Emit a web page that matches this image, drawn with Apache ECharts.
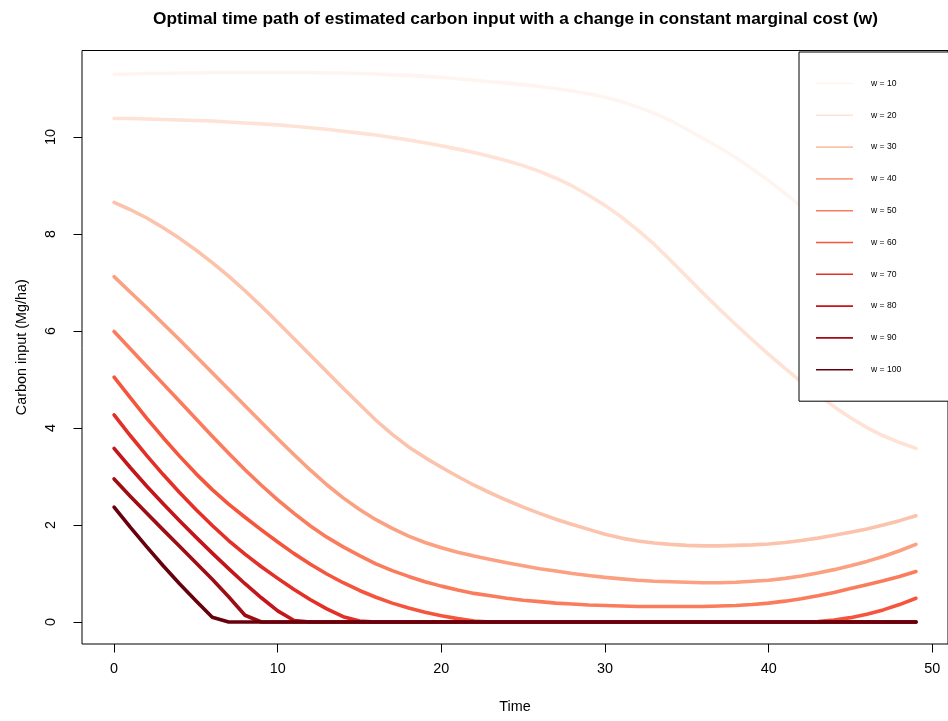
<!DOCTYPE html>
<html><head><meta charset="utf-8">
<script src="https://cdn.jsdelivr.net/npm/echarts@6/dist/echarts.min.js"></script>
<style>html,body{margin:0;padding:0;background:#fff}#c{width:948px;height:721px}</style>
</head><body><div id="c"></div>
<script>
const time = [0,1,2,3,4,5,6,7,8,9,10,11,12,13,14,15,16,17,18,19,20,21,22,23,24,25,26,27,28,29,30,31,32,33,34,35,36,37,38,39,40,41,42,43,44,45,46,47,48,49];
const w10 = [11.29,11.30,11.31,11.31,11.32,11.32,11.33,11.33,11.33,11.33,11.33,11.33,11.33,11.32,11.32,11.31,11.30,11.28,11.27,11.25,11.23,11.20,11.17,11.14,11.11,11.08,11.04,11.00,10.95,10.89,10.82,10.73,10.62,10.49,10.34,10.16,9.97,9.78,9.57,9.34,9.10,8.84,8.56,8.26,7.94,7.61,7.27,6.93,6.59,6.25];
const w20 = [10.38,10.38,10.37,10.36,10.35,10.34,10.33,10.31,10.29,10.27,10.25,10.22,10.19,10.16,10.12,10.08,10.04,9.99,9.94,9.88,9.82,9.75,9.68,9.60,9.51,9.41,9.29,9.15,8.99,8.80,8.59,8.35,8.08,7.79,7.46,7.12,6.78,6.45,6.13,5.82,5.52,5.23,4.95,4.69,4.44,4.21,4.01,3.84,3.70,3.58];
const w30 = [8.65,8.50,8.33,8.13,7.91,7.67,7.41,7.13,6.83,6.51,6.18,5.84,5.50,5.16,4.82,4.49,4.16,3.87,3.61,3.39,3.19,3.00,2.82,2.66,2.51,2.37,2.24,2.12,2.01,1.91,1.81,1.73,1.67,1.63,1.60,1.58,1.57,1.57,1.58,1.59,1.61,1.64,1.68,1.73,1.79,1.85,1.92,2.00,2.09,2.19];
const w40 = [7.12,6.80,6.48,6.15,5.82,5.48,5.14,4.80,4.46,4.12,3.78,3.45,3.13,2.83,2.56,2.32,2.11,1.93,1.77,1.64,1.53,1.44,1.36,1.29,1.22,1.16,1.10,1.05,1.00,0.96,0.92,0.89,0.86,0.84,0.83,0.82,0.81,0.81,0.82,0.84,0.86,0.90,0.95,1.01,1.08,1.16,1.25,1.35,1.47,1.60];
const w50 = [5.99,5.63,5.27,4.91,4.55,4.19,3.83,3.48,3.14,2.82,2.52,2.24,1.98,1.75,1.55,1.37,1.20,1.06,0.94,0.83,0.74,0.66,0.59,0.54,0.49,0.45,0.42,0.39,0.37,0.35,0.34,0.33,0.32,0.32,0.32,0.32,0.32,0.33,0.34,0.36,0.39,0.43,0.48,0.54,0.61,0.69,0.77,0.85,0.94,1.04];
const w60 = [5.05,4.62,4.20,3.80,3.42,3.06,2.73,2.43,2.16,1.90,1.65,1.41,1.19,0.99,0.81,0.65,0.51,0.39,0.29,0.20,0.13,0.07,0.02,0,0,0,0,0,0,0,0,0,0,0,0,0,0,0,0,0,0,0,0,0.01,0.04,0.09,0.16,0.25,0.36,0.49];
const w70 = [4.27,3.84,3.43,3.04,2.67,2.32,1.99,1.68,1.40,1.14,0.90,0.67,0.46,0.27,0.11,0.02,0,0,0,0,0,0,0,0,0,0,0,0,0,0,0,0,0,0,0,0,0,0,0,0,0,0,0,0,0,0,0,0,0,0];
const w80 = [3.58,3.18,2.80,2.44,2.09,1.75,1.42,1.10,0.79,0.50,0.23,0.03,0,0,0,0,0,0,0,0,0,0,0,0,0,0,0,0,0,0,0,0,0,0,0,0,0,0,0,0,0,0,0,0,0,0,0,0,0,0];
const w90 = [2.95,2.59,2.24,1.90,1.56,1.22,0.88,0.52,0.14,0,0,0,0,0,0,0,0,0,0,0,0,0,0,0,0,0,0,0,0,0,0,0,0,0,0,0,0,0,0,0,0,0,0,0,0,0,0,0,0,0];
const w100 = [2.37,1.95,1.55,1.16,0.79,0.44,0.10,0,0,0,0,0,0,0,0,0,0,0,0,0,0,0,0,0,0,0,0,0,0,0,0,0,0,0,0,0,0,0,0,0,0,0,0,0,0,0,0,0,0,0];
const seriesNames = ['w = 10','w = 20','w = 30','w = 40','w = 50','w = 60','w = 70','w = 80','w = 90','w = 100'];
const xTicks = [0,10,20,30,40,50];
const yTicks = [0,2,4,6,8,10];

const seriesValues = [w10,w20,w30,w40,w50,w60,w70,w80,w90,w100];
const palette = ['#FFF5F0','#FEE2D5','#FCC3AC','#FCA082','#FB7C5C','#F6553D','#E32F27','#C3161B','#9E0D14','#67000D'];
const FONT = "'Liberation Sans', Arial, Helvetica, sans-serif";

const chart = echarts.init(document.getElementById('c'), null, {renderer: 'canvas'});
chart.setOption({
  animation: false,
  backgroundColor: '#ffffff',
  title: {
    text: 'Optimal time path of estimated carbon input with a change in constant marginal cost (w)',
    left: 153, top: 11, padding: 0,
    textStyle: {fontFamily: FONT, fontSize: 17.3, fontWeight: 'bold', color: '#000'}
  },
  grid: {left: 82, top: 50.5, right: -4, bottom: 77, show: true, borderColor: '#000', borderWidth: 1, backgroundColor: 'transparent', containLabel: false},
  xAxis: {
    type: 'value', min: -1.96, max: 50.96,
    name: 'Time', nameLocation: 'middle', nameGap: 56,
    nameTextStyle: {fontFamily: FONT, fontSize: 14.4, color: '#000'},
    axisLine: {show: false, onZero: false},
    axisTick: {show: true, inside: false, length: 8.5, customValues: xTicks, lineStyle: {color: '#000', width: 1}},
    axisLabel: {show: true, margin: 18, customValues: xTicks, fontFamily: FONT, fontSize: 14.4, color: '#000'},
    splitLine: {show: false}
  },
  yAxis: {
    type: 'value', min: -0.4532, max: 11.7832,
    name: 'Carbon input (Mg/ha)', nameLocation: 'middle', nameGap: 53,
    nameTextStyle: {fontFamily: FONT, fontSize: 14.4, color: '#000'},
    axisLine: {show: false, onZero: false},
    axisTick: {show: true, inside: false, length: 8.5, customValues: yTicks, lineStyle: {color: '#000', width: 1}},
    axisLabel: {show: true, rotate: 90, margin: 24, customValues: yTicks, fontFamily: FONT, fontSize: 14.4, color: '#000'},
    splitLine: {show: false}
  },
  legend: {
    orient: 'vertical', left: 799, top: 52,
    padding: [27, 130, 27, 17],
    itemGap: 22.8, itemWidth: 37, itemHeight: 1.6, icon: 'rect',
    selectedMode: false,
    backgroundColor: '#ffffff', borderColor: '#000', borderWidth: 1, borderRadius: 0,
    textStyle: {fontFamily: FONT, fontSize: 8.6, color: '#000', padding: [0, 0, 0, 13]},
    data: seriesNames
  },
  series: seriesValues.map((vals, k) => ({
    name: seriesNames[k],
    type: 'line',
    data: time.map((t, i) => [t, vals[i]]),
    symbol: 'none', showSymbol: false, smooth: false,
    color: palette[k],
    lineStyle: {width: 3.6, color: palette[k], cap: 'round', join: 'round'},
    emphasis: {disabled: true}
  }))
});
</script>
</body></html>
